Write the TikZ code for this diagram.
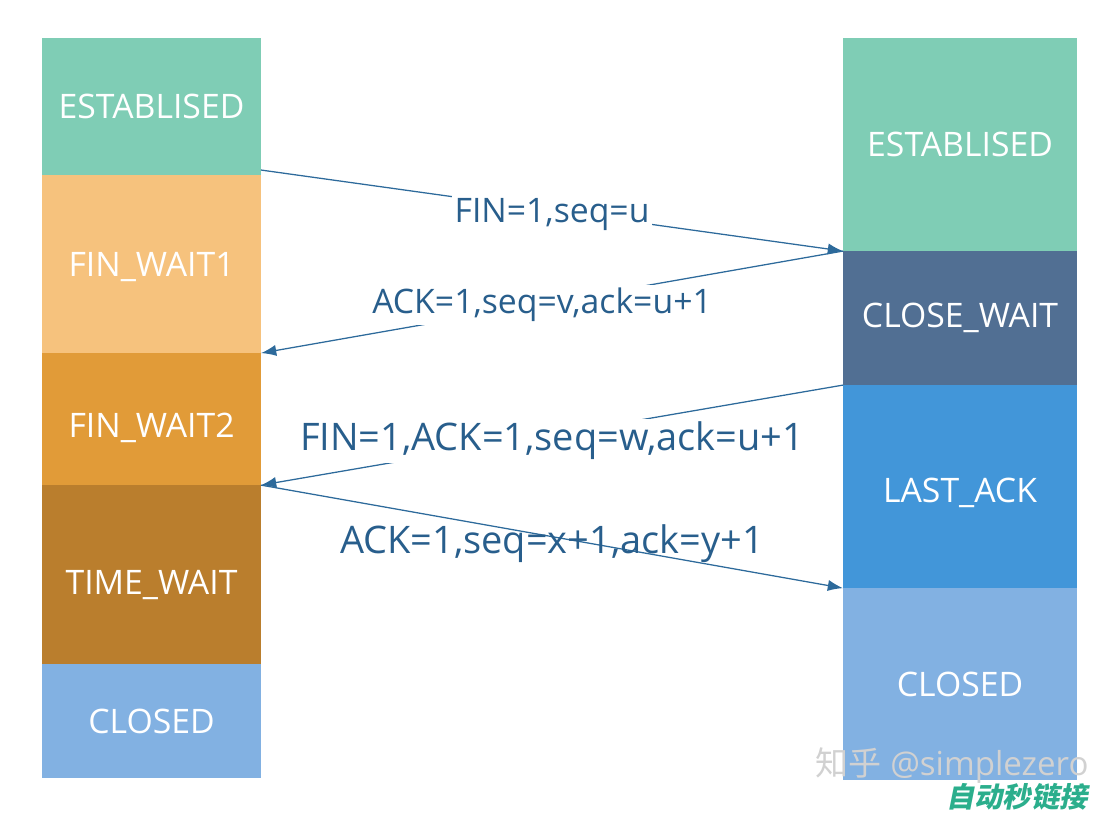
\documentclass[tikz,border=0pt]{standalone}
\usepackage{fontspec}
\setmainfont{Open Sans}
\newfontfamily\cjkfont{Noto Sans CJK SC}
\newfontfamily\cjkslant[FakeSlant=0.2]{Noto Sans CJK SC}
\usetikzlibrary{shapes,arrows.meta,positioning}
\definecolor{estcolor}{RGB}{127,205,181}
\definecolor{waitonecolor}{RGB}{246,194,125}
\definecolor{waittwocolor}{RGB}{225,155,56}
\definecolor{timecolor}{RGB}{186,126,45}
\definecolor{closedcolor}{RGB}{130,177,226}
\definecolor{closewaitcolor}{RGB}{81,111,147}
\definecolor{lastackcolor}{RGB}{66,150,217}
\definecolor{linecolor}{RGB}{45,106,155}
\definecolor{msgcolor}{RGB}{40,94,140}
\definecolor{linkcolor}{RGB}{43,174,140}
\newcommand{\lowertext}[2]{\raisebox{-#1}[\height][\depth]{#2}}

\begin{document}
\begin{tikzpicture}[x=0.025cm, y=-0.025cm,
	state/.style={
		rectangle,
		draw=none,
		outer sep=0pt,
		inner sep=0pt,
		text=white,
		font=\fontsize{24}{28}\selectfont},
	client/.style={
		state,
		minimum width=5.475cm},
	server/.style={
		state,
		minimum width=5.85cm},
	line/.style={
		draw,
		color=linecolor,
		line width=0.9pt,
		-{Latex[length=3.8mm,width=2.8mm]}},
	msg/.style={
		fill=white,
		text=msgcolor,
		inner sep=2pt,
		font=\fontsize{24}{28}\selectfont},
	bigmsg/.style={
		msg,
		font=\fontsize{27}{30}\selectfont}]

    \useasboundingbox (0,0) rectangle (1120,818);

    % Client side
    \node [client, fill=estcolor, minimum height=3.425cm, anchor=north west] (cestab) at (42,38) {ESTABLISED};
    \node [client, fill=waitonecolor, minimum height=4.45cm, below=0pt of cestab] (finwaitone) {\lowertext{0.07cm}{FIN\_WAIT1}};
    \node [client, fill=waittwocolor, minimum height=3.3cm, below=0pt of finwaitone] (finwaittwo) {\lowertext{0.22cm}{FIN\_WAIT2}};
    \node [client, fill=timecolor, minimum height=4.475cm, below=0pt of finwaittwo] (timewait) {\lowertext{0.27cm}{TIME\_WAIT}};
    \node [client, fill=closedcolor, minimum height=2.85cm, below=0pt of timewait] (cclosed) {CLOSED};
    % Server side
    \node [server, fill=estcolor, minimum height=5.325cm, anchor=north west] (sestab) at (843,38) {ESTABLISED};
    \node [server, fill=closewaitcolor, minimum height=3.35cm, below=0pt of sestab] (closewait) {CLOSE\_WAIT};
    \node [server, fill=lastackcolor, minimum height=5.075cm, below=0pt of closewait] (lastack) {\lowertext{0.15cm}{LAST\_ACK}};
    \node [server, fill=closedcolor, minimum height=4.8cm, below=0pt of lastack] (sclosed) {CLOSED};

    % Messages
    \path [line] ([yshift=0.125cm]finwaitone.north east) -- node[msg, yshift=-0.11cm] {FIN=1,seq=u} (closewait.north west);
    \path [line] (closewait.north west) -- node[msg, xshift=-0.25cm, yshift=-0.07cm] {ACK=1,seq=v,ack=u+1} (finwaitone.south east);
    \path [line] (lastack.north west) -- node[bigmsg, yshift=-0.14cm] {FIN=1,ACK=1,seq=w,ack=u+1} (finwaittwo.south east);
    \path [line] (finwaittwo.south east) -- node[bigmsg, fill=none, yshift=-0.17cm] {ACK=1,seq=x+1,ack=y+1} (lastack.south west);

    % Watermark
    \node [text=black!18, font=\fontsize{23.5}{26}\selectfont] (zhihu) at (952,766) {{\cjkfont 知乎} @simplezero};
    \node [text=linkcolor, font=\fontsize{20}{24}\bfseries\cjkslant] (autolink) at (1017,797) {自动秒链接};
\end{tikzpicture}
\end{document}
